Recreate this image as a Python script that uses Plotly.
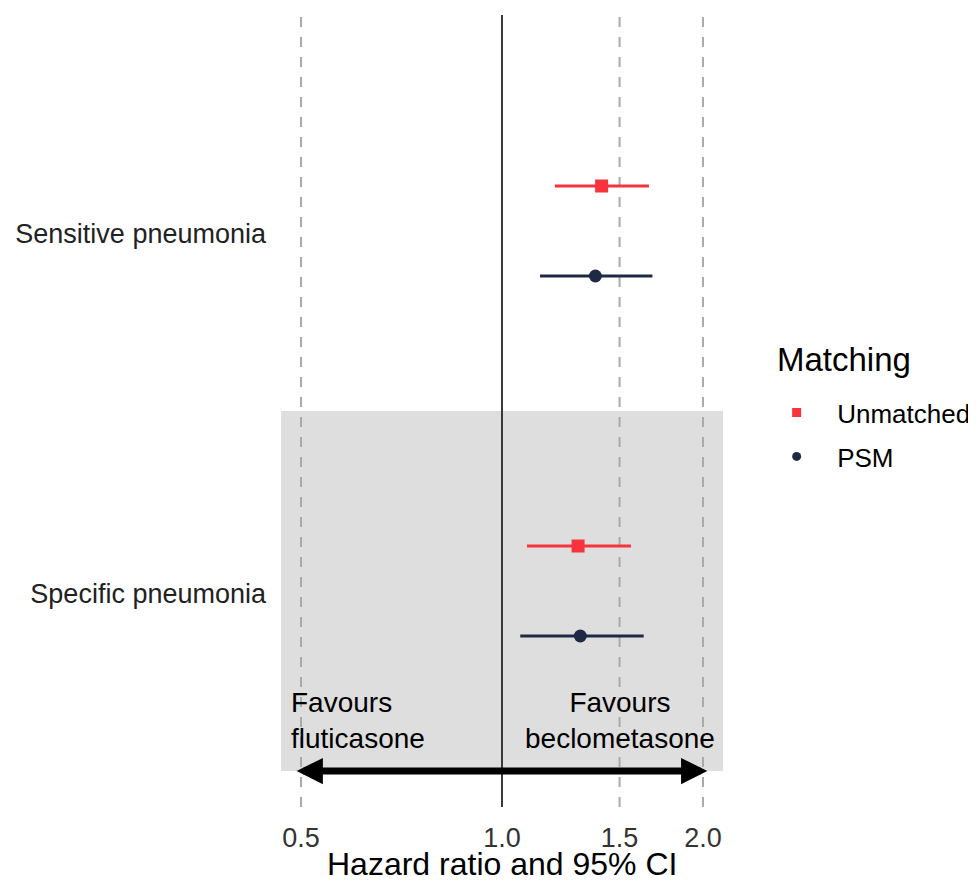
import plotly.graph_objects as go
import numpy as np

# ---- data ----
outcomes = ["Sensitive pneumonia", "Specific pneumonia"]
outcome_pos = [2, 1]
matching = ["Unmatched", "PSM"]
hr_unmatched = [1.41, 1.30]
lo_unmatched = [1.20, 1.09]
hi_unmatched = [1.66, 1.56]
hr_psm = [1.38, 1.31]
lo_psm = [1.14, 1.065]
hi_psm = [1.68, 1.63]
x_ticks = [0.5, 1.0, 1.5, 2.0]
x_tick_labels = ["0.5", "1.0", "1.5", "2.0"]
x_title = "Hazard ratio and 95% CI"

RED = "#F8333C"
NAVY = "#1E2A45"
FONT = "Liberation Sans, Arial, sans-serif"
dodge = 0.125

fig = go.Figure()

# reference lines
for xv in [0.5, 1.5, 2.0]:
    fig.add_trace(go.Scatter(x=[xv, xv], y=[0.4, 2.6], mode="lines",
                             line=dict(color="#AAAAAA", width=2, dash="10px,10px"),
                             showlegend=False, hoverinfo="skip"))
fig.add_trace(go.Scatter(x=[1.0, 1.0], y=[0.4, 2.6], mode="lines",
                         line=dict(color="#3A3A3A", width=2),
                         showlegend=False, hoverinfo="skip"))

series = [
    ("Unmatched", hr_unmatched, lo_unmatched, hi_unmatched, RED, "square", +dodge),
    ("PSM", hr_psm, lo_psm, hi_psm, NAVY, "circle", -dodge),
]
for name, hr, lo, hi, col, sym, off in series:
    hr = np.array(hr); lo = np.array(lo); hi = np.array(hi)
    fig.add_trace(go.Scatter(
        x=hr, y=np.array(outcome_pos) + off, mode="markers", name=name,
        marker=dict(color=col, symbol=sym, size=13),
        error_x=dict(type="data", symmetric=False, array=hi - hr, arrayminus=hr - lo,
                     color=col, thickness=3, width=0),
        showlegend=False))
    # legend entry with smaller key
    fig.add_trace(go.Scatter(x=[None], y=[None], mode="markers", name=name,
                             legendgroup=name,
                             marker=dict(color=col, symbol=sym, size=9)))

# shaded band for second outcome
fig.add_shape(type="rect", xref="paper", yref="y", x0=0, x1=1, y0=0.5, y1=1.5,
              fillcolor="#DEDEDE", line=dict(width=0), layer="below")

# arrow
fig.add_annotation(x=np.log10(2.03), y=0.5, ax=np.log10(0.49), ay=0.5,
                   xref="x", yref="y", axref="x", ayref="y", text="",
                   showarrow=True, arrowhead=2, startarrowhead=2, arrowside="end+start",
                   arrowwidth=7, arrowsize=0.75, startarrowsize=0.75, arrowcolor="black")
fig.add_annotation(x=np.log10(0.48), y=0.64, xref="x", yref="y",
                   text="Favours<br>fluticasone", showarrow=False, xanchor="left", align="left",
                   font=dict(size=28, color="black", family=FONT))
fig.add_annotation(x=np.log10(1.5), y=0.64, xref="x", yref="y",
                   text="Favours<br>beclometasone", showarrow=False, xanchor="center", align="center",
                   font=dict(size=28, color="black", family=FONT))
# legend title
fig.add_annotation(x=1.118, y=0.5644, xref="paper", yref="paper", text="Matching",
                   showarrow=False, xanchor="left", yanchor="middle",
                   font=dict(size=33, color="black", family=FONT))
# x-axis title
fig.add_annotation(x=0.5, y=-0.072, xref="paper", yref="paper", text=x_title,
                   showarrow=False, xanchor="center", yanchor="middle", borderpad=0,
                   font=dict(size=32, color="black", family=FONT))

fig.update_layout(
    width=968, height=878,
    margin=dict(l=273, r=253, t=7, b=79, autoexpand=False),
    plot_bgcolor="white", paper_bgcolor="white",
    font=dict(family=FONT, color="black"),
    xaxis=dict(type="log", range=[-0.331, 0.331], tickvals=x_ticks, ticktext=x_tick_labels,
               showgrid=False, zeroline=False, showline=False,
               ticks="outside", ticklen=7, tickcolor="rgba(0,0,0,0)", automargin=False,
               tickfont=dict(size=27, color="#333333")),
    yaxis=dict(range=[0.4, 2.6], tickvals=outcome_pos, ticktext=outcomes,
               showgrid=False, zeroline=False, showline=False, ticks="", automargin=False,
               ticklabelstandoff=14, ticklabelshift=3,
               tickfont=dict(size=27, color="#222222")),
    legend=dict(x=1.075, y=0.5275, xanchor="left", yanchor="top", itemwidth=71,
                font=dict(size=26, color="black"), tracegroupgap=7,
                bgcolor="rgba(0,0,0,0)"),
    showlegend=True,
)

fig.write_html("out.html")
